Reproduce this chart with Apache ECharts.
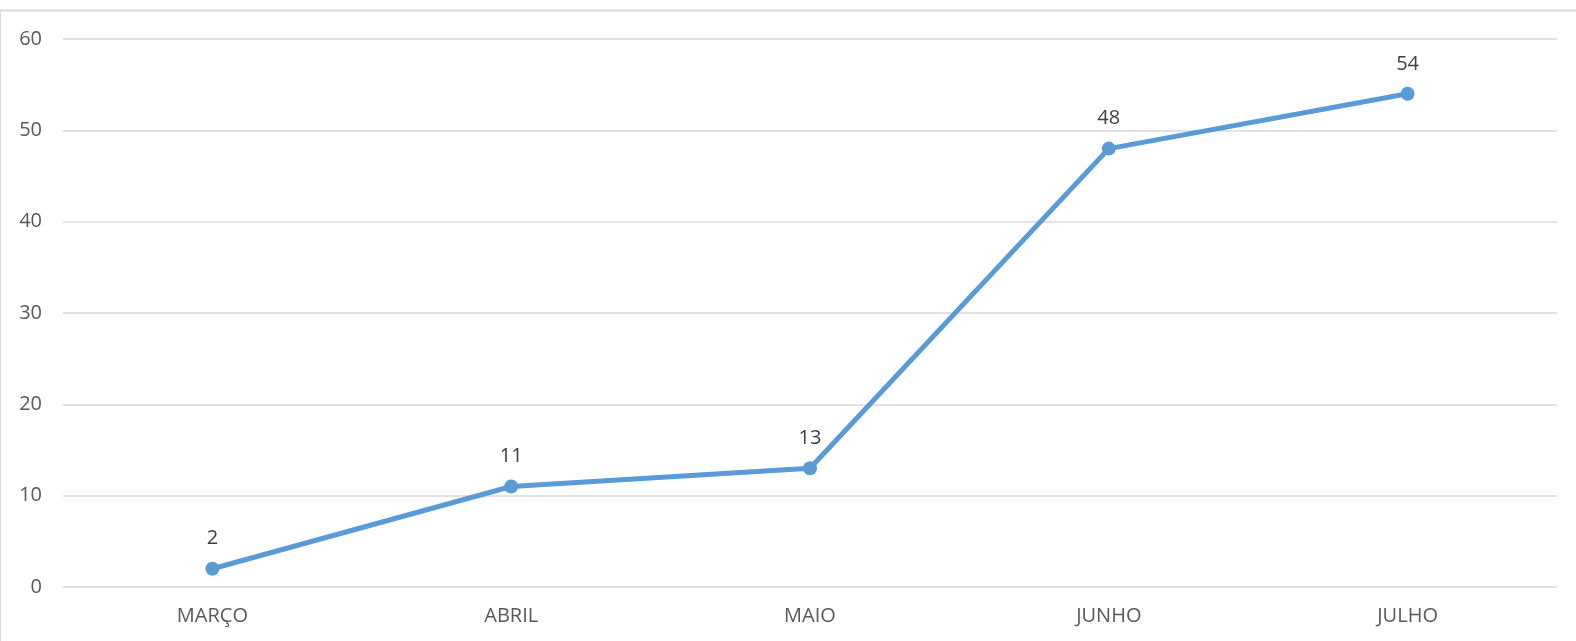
<!DOCTYPE html>
<html>
<head>
<meta charset="utf-8">
<script src="https://cdn.jsdelivr.net/npm/echarts@6/dist/echarts.min.js"></script>
<style>
  html, body { margin: 0; padding: 0; background: #fff; }
  #chart { width: 1576px; height: 641px; }
</style>
</head>
<body>
<div id="chart"></div>
<script>
const months = ['MARÇO', 'ABRIL', 'MAIO', 'JUNHO', 'JULHO']
const values = [2, 11, 13, 48, 54]
const yTicks = { min: 0, max: 60, interval: 10 }

const FONT = 'Open Sans'
const chart = echarts.init(document.getElementById('chart'), null, { renderer: 'canvas' })

chart.setOption({
  backgroundColor: '#fff',
  animation: false,
  textStyle: { fontFamily: FONT },
  graphic: [
    // chart frame (top and left edges visible in the reference)
    { type: 'line', shape: { x1: 0, y1: 10.5, x2: 1576, y2: 10.5 }, style: { stroke: '#d9d9d9', lineWidth: 2 } },
    { type: 'line', shape: { x1: 0.5, y1: 10, x2: 0.5, y2: 641 }, style: { stroke: '#d9d9d9', lineWidth: 1 } },
  ],
  grid: { left: 63, right: 19, top: 39, bottom: 54 },
  xAxis: {
    type: 'category',
    data: months,
    boundaryGap: true,
    axisLine: { show: false },
    axisTick: { show: false },
    axisLabel: { color: '#595959', fontSize: 20, fontFamily: FONT, margin: 19 },
  },
  yAxis: {
    type: 'value',
    min: yTicks.min,
    max: yTicks.max,
    interval: yTicks.interval,
    axisLine: { show: false },
    axisTick: { show: false },
    axisLabel: { color: '#595959', fontSize: 20, fontFamily: FONT, margin: 21 },
    splitLine: { lineStyle: { color: '#d9d9d9', width: 1.5 } },
  },
  series: [
    {
      type: 'line',
      data: values,
      symbol: 'circle',
      symbolSize: 14,
      lineStyle: { color: '#5b9bd5', width: 5 },
      itemStyle: { color: '#5b9bd5' },
      label: {
        show: true,
        position: 'top',
        distance: 13,
        color: '#404040',
        fontSize: 20,
        fontFamily: FONT,
      },
    },
  ],
})
</script>
</body>
</html>
